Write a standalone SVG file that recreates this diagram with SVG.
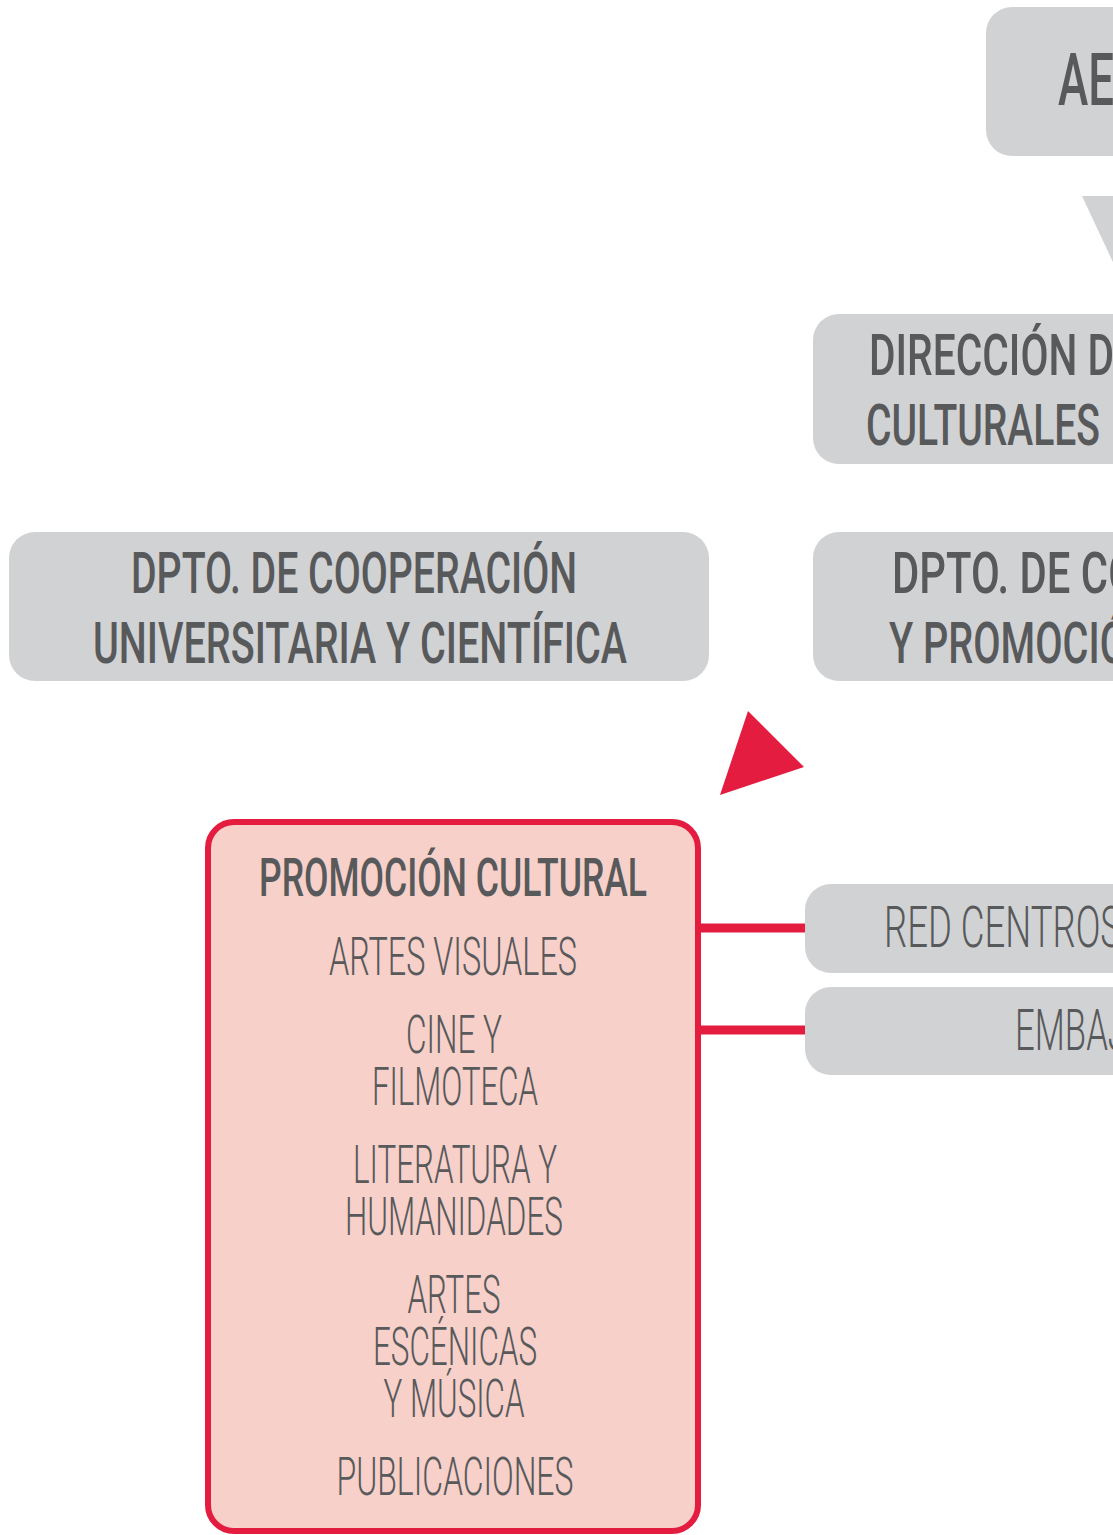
<svg xmlns="http://www.w3.org/2000/svg" width="1113" height="1535" viewBox="0 0 1113 1535">
  <style>
    .box { fill: #d1d2d4; }
    .t { fill: #58595b; font-family: Roboto, "Liberation Sans", sans-serif; }
    .b { font-weight: 500; font-size: 57px; }
    .l { font-weight: 300; font-size: 53px; }
    .lg { font-weight: 300; font-size: 57px; }
    .red { fill: #e31c40; }
    .conn { stroke: #e31c40; stroke-width: 9; fill: none; }
  </style>
  <rect width="1113" height="1535" fill="#ffffff"/>

  <g id="connectors">
    <polygon points="1082,196 1200,196 1141,322" fill="#d1d2d4"/>
    <polygon class="red" points="748,711 804,767 720,795"/>
    <line class="conn" x1="698" y1="928" x2="806" y2="928"/>
    <line class="conn" x1="698" y1="1030" x2="806" y2="1030"/>
  </g>

  <g id="node-aecid">
    <rect class="box" x="986" y="7" width="200" height="149" rx="26"/>
    <text class="t b" x="1058" y="105" font-size="72" textLength="56" lengthAdjust="spacingAndGlyphs" style="font-size:72px">AE</text>
  </g>

  <g id="node-direccion">
    <rect class="box" x="813" y="314" width="400" height="150" rx="26"/>
    <text class="t b" x="869" y="375" textLength="268" lengthAdjust="spacingAndGlyphs">DIRECCIÓN DE</text>
    <text class="t b" x="866" y="445" textLength="234" lengthAdjust="spacingAndGlyphs">CULTURALES</text>
  </g>

  <g id="node-dpto-univ">
    <rect class="box" x="9" y="532" width="700" height="149" rx="26"/>
    <text class="t b" x="354" y="593" text-anchor="middle" textLength="446" lengthAdjust="spacingAndGlyphs">DPTO. DE COOPERACIÓN</text>
    <text class="t b" x="360" y="663" text-anchor="middle" textLength="534" lengthAdjust="spacingAndGlyphs">UNIVERSITARIA Y CIENTÍFICA</text>
  </g>

  <g id="node-dpto-cult">
    <rect class="box" x="813" y="532" width="400" height="149" rx="26"/>
    <text class="t b" x="892" y="593" textLength="245" lengthAdjust="spacingAndGlyphs">DPTO. DE CO</text>
    <text class="t b" x="889" y="663" textLength="238" lengthAdjust="spacingAndGlyphs">Y PROMOCIÓ</text>
  </g>

  <g id="node-red-centros">
    <rect class="box" x="805" y="884" width="400" height="89" rx="26"/>
    <text class="t lg" x="884" y="947" textLength="238" lengthAdjust="spacingAndGlyphs">RED CENTROS</text>
  </g>

  <g id="node-embajadas">
    <rect class="box" x="805" y="987" width="400" height="88" rx="26"/>
    <text class="t lg" x="1015" y="1050" textLength="112" lengthAdjust="spacingAndGlyphs">EMBAJ</text>
  </g>

  <g id="node-promocion">
    <rect x="208" y="822" width="490" height="709" rx="26" fill="#f6d0c9" stroke="#e31c40" stroke-width="6"/>
    <text class="t b" x="453" y="896" text-anchor="middle" style="font-size:53px" textLength="388" lengthAdjust="spacingAndGlyphs">PROMOCIÓN CULTURAL</text>
    <text class="t l" x="453" y="975" text-anchor="middle" textLength="248" lengthAdjust="spacingAndGlyphs">ARTES VISUALES</text>
    <text class="t l" x="454" y="1053" text-anchor="middle" textLength="96" lengthAdjust="spacingAndGlyphs">CINE Y</text>
    <text class="t l" x="455" y="1105" text-anchor="middle" textLength="166" lengthAdjust="spacingAndGlyphs">FILMOTECA</text>
    <text class="t l" x="455" y="1183" text-anchor="middle" textLength="204" lengthAdjust="spacingAndGlyphs">LITERATURA Y</text>
    <text class="t l" x="454" y="1235" text-anchor="middle" textLength="218" lengthAdjust="spacingAndGlyphs">HUMANIDADES</text>
    <text class="t l" x="454" y="1313" text-anchor="middle" textLength="93" lengthAdjust="spacingAndGlyphs">ARTES</text>
    <text class="t l" x="455" y="1365" text-anchor="middle" textLength="164" lengthAdjust="spacingAndGlyphs">ESCÉNICAS</text>
    <text class="t l" x="454" y="1417" text-anchor="middle" textLength="141" lengthAdjust="spacingAndGlyphs">Y MÚSICA</text>
    <text class="t l" x="455" y="1495" text-anchor="middle" textLength="237" lengthAdjust="spacingAndGlyphs">PUBLICACIONES</text>
  </g>
</svg>
